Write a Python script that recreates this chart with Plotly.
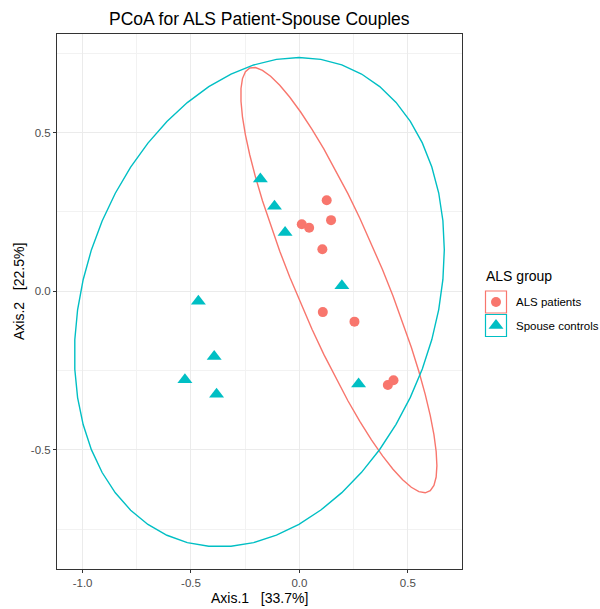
import numpy as np
import plotly.graph_objects as go

# ---- data ----
als_x = [0.126, 0.146, 0.011, 0.045, 0.106, 0.108, 0.254, 0.408, 0.434]
als_y = [0.287, 0.224, 0.211, 0.200, 0.132, -0.066, -0.096, -0.296, -0.281]
sp_x = [-0.180, -0.115, -0.066, 0.196, -0.466, -0.393, -0.528, -0.382, 0.273]
sp_y = [0.354, 0.268, 0.185, 0.017, -0.032, -0.206, -0.279, -0.325, -0.293]
groups = ["ALS patients", "Spouse controls"]
colors = ["#F8766D", "#00BFC4"]
symbols = ["circle", "triangle-up"]
x_ticks = [-1.0, -0.5, 0.0, 0.5]
y_ticks = [-0.5, 0.0, 0.5]
title = "PCoA for ALS Patient-Spouse Couples"
x_title = "Axis.1\u00a0\u00a0\u00a0[33.7%]"
y_title = "Axis.2\u00a0\u00a0\u00a0[22.5%]"
legend_title = "ALS group"

W, H = 600, 609
PX0, PX1, PY0, PY1 = 57, 462, 34, 569  # panel in pixels
FONT = "Liberation Sans, Arial, Helvetica, sans-serif"


def stat_ellipse(xs, ys, level=0.95, segments=51):
    """ggplot2 stat_ellipse(type = 'norm')"""
    data = np.column_stack([xs, ys])
    center = data.mean(axis=0)
    shape = np.cov(data, rowvar=False)
    dfd = len(xs) - 1
    qf = (dfd / 2.0) * ((1 - level) ** (-2.0 / dfd) - 1)  # qf(level, 2, dfd)
    radius = np.sqrt(2 * qf)
    R = np.linalg.cholesky(shape).T
    ang = np.arange(segments + 1) * 2 * np.pi / segments
    circ = np.column_stack([np.cos(ang), np.sin(ang)])
    ell = center + radius * (circ @ R)
    return ell[:, 0], ell[:, 1]


fig = go.Figure()
series = [(als_x, als_y), (sp_x, sp_y)]
for (xs, ys), col in zip(series, colors):
    ex, ey = stat_ellipse(xs, ys)
    fig.add_trace(go.Scatter(x=ex, y=ey, mode="lines", line=dict(color=col, width=1.4),
                             showlegend=False, hoverinfo="skip"))
for (xs, ys), col, sym, name in zip(series, colors, symbols, groups):
    fig.add_trace(go.Scatter(x=xs, y=ys, mode="markers", name=name,
                             marker=dict(color=col, symbol=sym,
                                         size=10 if sym == "circle" else 13,
                                         line=dict(width=0)),
                             showlegend=False))

# legend keys drawn on a pixel overlay axis
key_x = 496
key_y = [302, 325.5]
for col, sym, ky in zip(colors, symbols, key_y):
    fig.add_trace(go.Scatter(x=[key_x], y=[ky], xaxis="x2", yaxis="y2", mode="markers",
                             marker=dict(color=col, symbol=sym,
                                         size=10 if sym == "circle" else 13, line=dict(width=0)),
                             showlegend=False, hoverinfo="skip"))

shapes = []
for col, ky in zip(colors, key_y):
    shapes.append(dict(type="rect", xref="x2", yref="y2", x0=485.5, x1=506.5,
                       y0=ky - 11, y1=ky + 11, line=dict(color=col, width=1.2),
                       fillcolor="rgba(0,0,0,0)"))

annotations = [
    dict(text=title, x=(PX0 + PX1) / 2, y=19, xref="x2", yref="y2", showarrow=False,
         font=dict(size=17.5, color="black", family=FONT), xanchor="center", yanchor="middle"),
    dict(text=x_title, x=(PX0 + PX1) / 2, y=598, xref="x2", yref="y2", showarrow=False,
         font=dict(size=14, color="black", family=FONT), xanchor="center", yanchor="middle"),
    dict(text=y_title, x=19, y=292, xref="x2", yref="y2", showarrow=False, textangle=-90,
         font=dict(size=14, color="black", family=FONT), xanchor="center", yanchor="middle"),
    dict(text=legend_title, x=484, y=276, xref="x2", yref="y2", showarrow=False,
         font=dict(size=14, color="black", family=FONT), xanchor="left", yanchor="middle"),
]
for name, ky in zip(groups, key_y):
    annotations.append(dict(text=name, x=514, y=ky, xref="x2", yref="y2", showarrow=False,
                            font=dict(size=11.5, color="black", family=FONT),
                            xanchor="left", yanchor="middle"))

x_range = [-1.118, 0.750]
y_range = [-0.876, 0.811]

axis_common = dict(showline=True, mirror=True, linecolor="#333333", linewidth=1,
                   ticks="outside", ticklen=3, tickcolor="#333333", tickwidth=1,
                   showgrid=True, gridcolor="#EBEBEB", gridwidth=1, zeroline=False,
                   tickfont=dict(size=11.5, color="#4D4D4D", family=FONT))

fig.update_layout(
    width=W, height=H, margin=dict(l=0, r=0, t=0, b=0),
    paper_bgcolor="white", plot_bgcolor="rgba(0,0,0,0)",
    xaxis=dict(domain=[PX0 / W, PX1 / W], range=x_range, tickvals=x_ticks,
               ticktext=["-1.0", "-0.5", "0.0", "0.5"],
               minor=dict(dtick=0.25, tick0=0, showgrid=True, gridcolor="#F2F2F2", gridwidth=0.6),
               anchor="y", **axis_common),
    yaxis=dict(domain=[(H - PY1) / H, (H - PY0) / H], range=y_range, tickvals=y_ticks,
               ticktext=["-0.5", "0.0", "0.5"],
               minor=dict(dtick=0.25, tick0=0, showgrid=True, gridcolor="#F2F2F2", gridwidth=0.6),
               anchor="x", **axis_common),
    xaxis2=dict(domain=[0, 1], range=[0, W], visible=False, anchor="y2", fixedrange=True),
    yaxis2=dict(domain=[0, 1], range=[H, 0], visible=False, anchor="x2", fixedrange=True),
    shapes=shapes, annotations=annotations, showlegend=False,
)

fig.write_html("out.html")
